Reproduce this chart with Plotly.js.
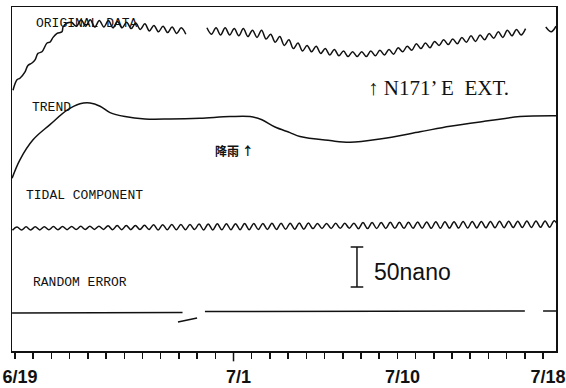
<!DOCTYPE html>
<html><head><meta charset="utf-8">
<script src="https://cdn.plot.ly/plotly-3.0.1.min.js"></script>
<style>html,body{margin:0;padding:0;background:#fff;}#chart{width:566px;height:388px;}</style>
</head><body><div id="chart"></div>
<script>
// x: days after 6/19 ; y: nano-strain on a stacked (offset) scale
const tickDays = [0, 12, 21, 29];
const tickLabels = ['6/19', '7/1', '7/10', '7/18'];

const waveStep = 0.25; // sampling step (days) of the wavy records

// ORIGINAL DATA
const origRiseDays = [-0.11, 0.11, 0.27, 0.55, 0.71, 0.93, 1.10, 1.26, 1.48, 1.76, 1.92, 2.09, 2.31, 2.58, 2.64, 2.86, 3.13];
const origRiseVals = [326, 339, 341, 349, 357, 360, 364, 372, 374, 385, 386, 392, 397, 399, 405, 410, 411];
const origSeg1Start = 3.13;
const origSeg1Vals = [411, 406, 414, 406, 414, 405, 413, 405, 413, 404, 412, 404, 411, 403, 410, 402, 409, 400, 407, 399, 406, 398, 405, 397, 404, 396];
const origSeg2Start = 10.54;
const origSeg2Vals = [404, 396, 404, 395, 404, 395, 403, 394, 403, 393, 401, 392, 401, 390, 396, 386, 393, 382, 389, 378,
  385, 375, 382, 374, 381, 372, 378, 370, 377, 369, 375, 368, 374, 368, 374, 368, 375, 369, 376, 370,
  377, 371, 379, 374, 381, 376, 384, 378, 385, 379, 387, 382, 389, 383, 390, 384, 392, 386, 394, 387,
  395, 389, 397, 391, 399, 392, 401, 394, 402, 395, 403];
const origSeg3Days = [29.15, 29.45, 29.71];
const origSeg3Vals = [405, 399, 406];

// TREND
const trendDays = [-0.16, 0.27, 0.99, 1.92, 2.86, 3.57, 4.12, 4.67, 5.22, 6.04, 7.14, 8.51, 10.16, 11.81, 12.91, 13.56, 14.28, 15.10, 15.65, 17.30, 18.40, 20.04, 22.24, 23.89, 26.08, 27.73, 29.71];
const trendVals = [216, 239, 264, 283, 301, 309, 310, 306, 298, 293, 290, 290, 291, 293, 293, 289, 280, 273, 268, 263, 261, 265, 274, 281, 288, 293, 294];

// TIDAL COMPONENT
const tidalStart = -0.14;
const tidalVals = [151.1, 155.1, 151.2, 155.2, 151.3, 155.3, 151.4, 155.4, 151.5, 155.5,
  151.6, 155.6, 151.7, 155.7, 151.8, 155.8, 151.9, 155.9, 152.0, 156.0,
  152.0, 156.7, 151.5, 156.8, 151.6, 156.9, 151.7, 157.0, 151.8, 157.1,
  151.9, 157.8, 151.4, 157.9, 151.5, 158.0, 151.6, 158.0, 151.7, 158.1,
  151.8, 158.8, 151.3, 158.9, 151.4, 159.0, 151.5, 159.1, 151.6, 159.2,
  151.7, 159.3, 151.7, 159.4, 151.8, 159.5, 151.9, 159.6, 152.0, 159.7,
  152.1, 159.8, 152.2, 159.9, 152.3, 160.0, 153.0, 159.5, 153.1, 159.5,
  153.2, 159.6, 153.3, 159.7, 153.4, 159.8, 152.9, 160.5, 153.0, 160.6,
  153.1, 160.7, 153.2, 160.8, 153.3, 160.9, 153.3, 161.0, 153.4, 161.1,
  153.5, 161.4, 153.4, 161.5, 153.5, 161.6, 153.6, 161.7, 153.7, 161.8,
  153.8, 161.9, 153.9, 161.9, 154.0, 162.0, 154.1, 162.1, 154.2, 162.2,
  154.3, 162.3, 154.4, 162.4, 154.5, 162.5, 154.6, 162.6, 154.7, 162.7, 154.7];

// RANDOM ERROR
const errDays1 = [-0.16, 4.5, 9.2];
const errVals1 = [47.5, 47.8, 48.1];
const errDashDays = [8.95, 10.0];
const errDashVals = [36.3, 41.3];
const errDays2 = [10.43, 28.0];
const errVals2 = [49.4, 50.0];
const errDays3 = [29.0, 29.75];
const errVals3 = [50.0, 50.0];

// scale bar
const scaleBarDay = 18.78;
const scaleBarBase = 80;
const scaleBarNano = 50;

const black = '#111';
const lw = 1.5;
function lineTrace(x, y, shape) {
  return {x: x, y: y, mode: 'lines', type: 'scatter', hoverinfo: 'skip',
    line: {color: black, width: lw, shape: shape || 'linear'}};
}
function waveTrace(x0, y) {
  return {x0: x0, dx: waveStep, y: y, mode: 'lines', type: 'scatter', hoverinfo: 'skip',
    line: {color: black, width: lw, shape: 'spline', smoothing: 1}};
}

const traces = [
  lineTrace(origRiseDays, origRiseVals, 'spline'),
  waveTrace(origSeg1Start, origSeg1Vals),
  waveTrace(origSeg2Start, origSeg2Vals),
  lineTrace(origSeg3Days, origSeg3Vals, 'spline'),
  lineTrace(trendDays, trendVals, 'spline'),
  waveTrace(tidalStart, tidalVals),
  lineTrace(errDays1, errVals1),
  lineTrace(errDashDays, errDashVals),
  lineTrace(errDays2, errVals2),
  lineTrace(errDays3, errVals3),
  {x: [scaleBarDay, scaleBarDay], y: [scaleBarBase, scaleBarBase + scaleBarNano], type: 'scatter',
   mode: 'lines+markers', hoverinfo: 'skip', line: {color: black, width: lw},
   marker: {symbol: 'line-ew', size: 9, line: {color: black, width: lw}}}
];

const labelFont = {family: 'Liberation Mono, DejaVu Sans Mono, monospace', size: 13, color: black};
function ann(text, x, y, font, xanchor) {
  return {text: text, x: x, y: y, xref: 'x', yref: 'y', showarrow: false,
    xanchor: xanchor || 'center', yanchor: 'middle', font: font};
}

const layout = {
  width: 566, height: 388,
  margin: {l: 12, r: 10, t: 7, b: 37, pad: 0},
  paper_bgcolor: '#fff', plot_bgcolor: '#fff',
  showlegend: false,
  xaxis: {
    range: [-0.165, 29.71], showgrid: false, zeroline: false,
    showline: true, mirror: true, linecolor: black, linewidth: lw,
    tickmode: 'array', tickvals: tickDays, ticktext: tickLabels,
    ticks: 'outside', ticklen: 6, tickwidth: lw, tickcolor: black,
    ticklabelshift: 5, ticklabelstandoff: 3, ticklabeloverflow: 'allow',
    tickfont: {family: 'Liberation Sans, Arial, sans-serif', size: 18, color: black, weight: 'bold'},
    minor: {tickmode: 'linear', tick0: 0, dtick: 1, ticks: 'outside', ticklen: 6, tickwidth: lw, tickcolor: black, showgrid: false}
  },
  yaxis: {
    range: [0, 430], showgrid: false, zeroline: false,
    showline: true, mirror: true, linecolor: black, linewidth: lw,
    showticklabels: false, ticks: ''
  },
  shapes: [
    {type: 'line', xref: 'x', yref: 'paper', x0: tickDays[1], x1: tickDays[1], y0: 0, y1: -0.03,
     line: {color: black, width: lw}}
  ],
  annotations: [
    ann('ORIGINAL DATA', 3.98, 409, labelFont),
    ann('TREND', 2.03, 304, labelFont),
    ann('TIDAL COMPONENT', 3.84, 194, labelFont),
    ann('RANDOM ERROR', 3.57, 86, labelFont),
    ann('\u2191 N171\u2019 E  EXT.', 19.27, 329, {family: 'Liberation Serif, Times New Roman, serif', size: 21, color: black}, 'left'),
    ann('降雨 \u2191', 12.08, 251, {family: 'Noto Sans CJK SC, sans-serif', size: 12, color: black, weight: 'bold'}),
    ann('50nano', 19.6, 99, {family: 'Liberation Sans, Arial, sans-serif', size: 23, color: black}, 'left')
  ]
};

Plotly.newPlot('chart', traces, layout, {displayModeBar: false, staticPlot: true});
</script>
</body></html>
